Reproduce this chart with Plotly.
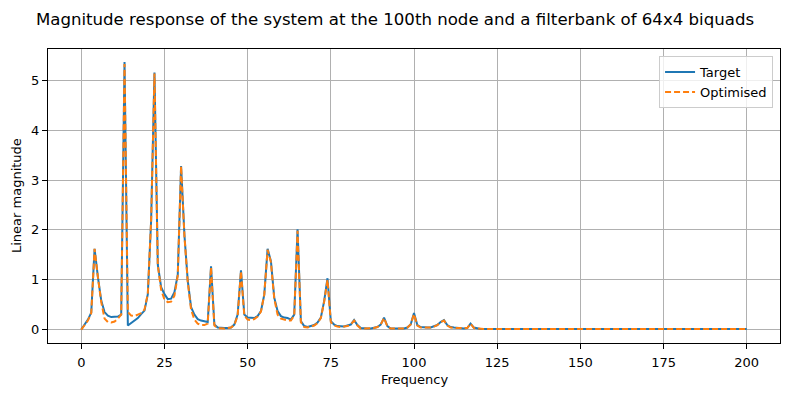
import plotly.graph_objects as go

freq = list(range(201))

target = [
    0.00, 0.09, 0.20, 0.34, 1.62, 1.05, 0.58, 0.35, 0.28, 0.25,
    0.25, 0.26, 0.30, 5.37, 0.08, 0.13, 0.18, 0.23, 0.31, 0.38,
    0.71, 2.20, 5.16, 1.30, 0.85, 0.71, 0.61, 0.62, 0.75, 1.10,
    3.28, 1.90, 0.98, 0.45, 0.30, 0.21, 0.18, 0.16, 0.15, 1.27,
    0.10, 0.04, 0.03, 0.03, 0.03, 0.04, 0.10, 0.30, 1.19, 0.30,
    0.24, 0.23, 0.23, 0.27, 0.37, 0.70, 1.62, 1.37, 0.64, 0.37,
    0.27, 0.24, 0.23, 0.20, 0.30, 2.01, 0.17, 0.07, 0.05, 0.07,
    0.09, 0.14, 0.24, 0.57, 1.03, 0.17, 0.10, 0.07, 0.06, 0.06,
    0.08, 0.10, 0.19, 0.09, 0.03, 0.02, 0.02, 0.02, 0.03, 0.05,
    0.10, 0.24, 0.07, 0.02, 0.02, 0.02, 0.02, 0.02, 0.04, 0.10,
    0.33, 0.09, 0.05, 0.04, 0.04, 0.04, 0.06, 0.09, 0.15, 0.19,
    0.09, 0.05, 0.04, 0.03, 0.02, 0.02, 0.03, 0.12, 0.04, 0.02,
    0.01, 0.01, 0.01, 0.01, 0.01, 0.01, 0.02, 0.01, 0.01, 0.01,
    0.01, 0.01, 0.01, 0.01, 0.01, 0.015, 0.01, 0.01, 0.01, 0.01,
    0.01, 0.01, 0.01, 0.01, 0.01, 0.01, 0.01, 0.01, 0.01, 0.01,
    0.01, 0.01, 0.01, 0.01, 0.01, 0.01, 0.01, 0.01, 0.01, 0.01,
    0.01, 0.01, 0.01, 0.01, 0.01, 0.01, 0.01, 0.01, 0.01, 0.01,
    0.01, 0.01, 0.01, 0.01, 0.01, 0.01, 0.01, 0.01, 0.01, 0.01,
    0.01, 0.01, 0.01, 0.01, 0.01, 0.01, 0.01, 0.01, 0.01, 0.01,
    0.01, 0.01, 0.01, 0.01, 0.01, 0.01, 0.01, 0.01, 0.01, 0.01,
    0.01,
]

optimised = [
    0.00, 0.08, 0.18, 0.33, 1.62, 1.05, 0.55, 0.22, 0.15, 0.14,
    0.16, 0.22, 0.30, 5.33, 0.35, 0.28, 0.27, 0.30, 0.33, 0.40,
    0.72, 2.20, 5.14, 1.28, 0.80, 0.60, 0.55, 0.56, 0.68, 1.08,
    3.28, 1.88, 0.95, 0.40, 0.20, 0.12, 0.09, 0.09, 0.12, 1.25,
    0.08, 0.03, 0.02, 0.02, 0.03, 0.04, 0.09, 0.28, 1.17, 0.28,
    0.20, 0.19, 0.21, 0.26, 0.36, 0.70, 1.60, 1.35, 0.62, 0.30,
    0.22, 0.20, 0.18, 0.18, 0.28, 1.98, 0.15, 0.05, 0.04, 0.06,
    0.08, 0.13, 0.23, 0.56, 1.00, 0.15, 0.08, 0.06, 0.05, 0.06,
    0.07, 0.10, 0.18, 0.08, 0.02, 0.02, 0.02, 0.02, 0.03, 0.05,
    0.10, 0.23, 0.06, 0.02, 0.02, 0.02, 0.02, 0.02, 0.04, 0.10,
    0.31, 0.08, 0.04, 0.04, 0.04, 0.04, 0.06, 0.09, 0.15, 0.18,
    0.08, 0.04, 0.03, 0.03, 0.02, 0.02, 0.03, 0.12, 0.03, 0.02,
    0.01, 0.01, 0.01, 0.01, 0.01, 0.01, 0.02, 0.01, 0.01, 0.01,
    0.01, 0.01, 0.01, 0.01, 0.01, 0.015, 0.01, 0.01, 0.01, 0.01,
    0.01, 0.01, 0.01, 0.01, 0.01, 0.01, 0.01, 0.01, 0.01, 0.01,
    0.01, 0.01, 0.01, 0.01, 0.01, 0.01, 0.01, 0.01, 0.01, 0.01,
    0.01, 0.01, 0.01, 0.01, 0.01, 0.01, 0.01, 0.01, 0.01, 0.01,
    0.01, 0.01, 0.01, 0.01, 0.01, 0.01, 0.01, 0.01, 0.01, 0.01,
    0.01, 0.01, 0.01, 0.01, 0.01, 0.01, 0.01, 0.01, 0.01, 0.01,
    0.01, 0.01, 0.01, 0.01, 0.01, 0.01, 0.01, 0.01, 0.01, 0.01,
    0.01,
]

x_ticks = [0, 25, 50, 75, 100, 125, 150, 175, 200]
y_ticks = [0, 1, 2, 3, 4, 5]

title_text = "Magnitude response of the system at the 100th node and a filterbank of 64x4 biquads"
x_title = "Frequency"
y_title = "Linear magnitude"

FONT = "DejaVu Sans"
# the page body has an 8px default margin, so the figure is 8px smaller
W, H = 782, 388
ML, MR, MT, MB = 40, 10, 41, 53
PW, PH = W - ML - MR, H - MT - MB

fig = go.Figure()
fig.add_trace(go.Scatter(x=freq, y=target, mode="lines", name="Target",
                         line=dict(color="#1f77b4", width=2)))
fig.add_trace(go.Scatter(x=freq, y=optimised, mode="lines", name="Optimised",
                         line=dict(color="#ff7f0e", width=2, dash="6px,3px")))

axis_common = dict(
    showline=True, linecolor="black", linewidth=1, mirror=True,
    showgrid=True, gridcolor="#b0b0b0", gridwidth=1,
    zeroline=False, ticks="outside", ticklen=5, tickwidth=1, tickcolor="black",
    tickfont=dict(family=FONT, size=13, color="black"),
    automargin=False,
)

fig.update_layout(
    width=W, height=H,
    margin=dict(l=ML, r=MR, t=MT, b=MB),
    paper_bgcolor="white", plot_bgcolor="white",
    font=dict(family=FONT, color="black"),
    title=dict(text=title_text, x=(395 - 8) / W, xanchor="center",
               y=1 - 11 / H, yanchor="middle",
               font=dict(family=FONT, size=16.6, color="black")),
    xaxis=dict(range=[-10, 210], tickvals=x_ticks, ticktext=[str(v) for v in x_ticks],
               ticklabelstandoff=2, **axis_common),
    yaxis=dict(range=[-0.27, 5.63], tickvals=y_ticks, ticktext=[str(v) for v in y_ticks],
               **axis_common),
    legend=dict(x=0.9905, y=0.976, xanchor="right", yanchor="top",
                bgcolor="rgba(255,255,255,0.8)", bordercolor="#cccccc", borderwidth=1,
                font=dict(family=FONT, size=13, color="black"),
                tracegroupgap=0, itemwidth=30),
    showlegend=True,
    annotations=[
        dict(text=x_title, xref="paper", yref="paper",
             x=(406 - ML) / PW, y=-(371 - (H - MB)) / PH,
             xanchor="center", yanchor="middle", showarrow=False,
             font=dict(family=FONT, size=13, color="black")),
        dict(text=y_title, xref="paper", yref="paper", textangle=-90,
             x=-(ML - 8) / PW, y=0.5,
             xanchor="center", yanchor="middle", showarrow=False,
             font=dict(family=FONT, size=13, color="black")),
    ],
)

fig.write_html("out.html")
